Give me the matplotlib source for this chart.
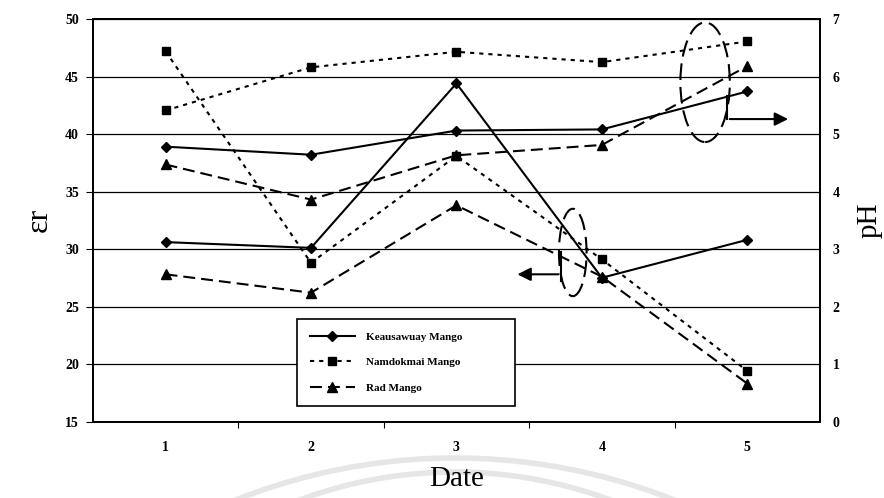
import matplotlib
matplotlib.use("Agg")
import matplotlib.pyplot as plt
from matplotlib.patches import Ellipse, Arc
from matplotlib.transforms import IdentityTransform

plt.rcParams['font.family'] = ['Liberation Serif', 'DejaVu Serif']
plt.rcParams['lines.scale_dashes'] = False

# data
dates = [1, 2, 3, 4, 5]
names = ['Keausawuay Mango', 'Namdokmai Mango', 'Rad Mango']
er_keau = [30.6, 30.1, 44.4, 27.5, 30.8]
er_namd = [47.2, 28.8, 38.1, 29.1, 19.4]
er_rad = [27.8, 26.2, 33.8, 27.6, 18.3]
ph_keau = [4.78, 4.64, 5.06, 5.08, 5.74]
ph_namd = [5.41, 6.16, 6.43, 6.25, 6.61]
ph_rad = [4.47, 3.86, 4.63, 4.81, 6.18]

markers = ['D', 's', '^']
msizes = [5.5, 5.5, 6.5]
dashes = [(None, None), (3.0, 3.6), (8.6, 4.3)]

fig = plt.figure(figsize=(8.84, 4.98), dpi=100)
ax = fig.add_axes([0.105, 0.1536, 0.8226, 0.8082])
ax2 = ax.twinx()

handles = []
for i, (er, ph) in enumerate(zip([er_keau, er_namd, er_rad], [ph_keau, ph_namd, ph_rad])):
    ls = '-' if i == 0 else (0, dashes[i])
    h, = ax.plot(dates, er, color='black', lw=1.5, ls=ls, marker=markers[i],
                 ms=msizes[i], label=names[i], zorder=3)
    ax2.plot(dates, ph, color='black', lw=1.5, ls=ls, marker=markers[i],
             ms=msizes[i], zorder=3)
    handles.append(h)

ax.set_xlim(0.5, 5.5)
ax.set_ylim(15, 50)
ax2.set_ylim(0, 7)
ax.set_yticks(range(15, 51, 5))
ax2.set_yticks(range(0, 8))
ax.set_xticks(dates)
ax.set_xticks([1.5, 2.5, 3.5, 4.5], minor=True)
ax.yaxis.grid(True, color='black', lw=0.9)
ax.set_axisbelow(True)

ax.tick_params(axis='x', which='major', length=0, pad=14, labelsize=10)
ax.tick_params(axis='x', which='minor', length=4, direction='out', width=0.8)
ax.tick_params(axis='y', length=5, width=0.8, pad=5, labelsize=10)
ax2.tick_params(axis='y', length=0, pad=9, labelsize=10)
for lab in ax.get_xticklabels() + ax.get_yticklabels() + ax2.get_yticklabels():
    lab.set_fontweight('bold')

for sp in ax.spines.values():
    sp.set_linewidth(1.3)
for sp in ax2.spines.values():
    sp.set_linewidth(1.3)

ax.set_xlabel('Date', fontsize=21, labelpad=9)
ax.set_ylabel('\u03b5r', fontsize=23, labelpad=8)
ax2.set_ylabel('pH', fontsize=21, labelpad=12, rotation=90)

# annotations: ellipses and arrows pointing to the axes
ax.add_patch(Ellipse((4.71, 44.5), 0.34, 10.4, fill=False, color='black',
                     lw=1.5, ls=(0, (12, 5)), zorder=4))
ax.add_patch(Ellipse((3.80, 29.7), 0.19, 7.6, fill=False, color='black',
                     lw=1.5, ls=(0, (12, 5)), zorder=4))
ax.plot([4.86, 4.86], [43.3, 41.3], color='black', lw=1.5, zorder=4)
ax.annotate('', xy=(5.30, 41.3), xytext=(4.86, 41.3),
            arrowprops=dict(arrowstyle='-|>', color='black', lw=1.5,
                            mutation_scale=20), zorder=4)
ax.plot([3.72, 3.72], [29.7, 27.2], color='black', lw=1.5, zorder=4)
ax.annotate('', xy=(3.40, 27.8), xytext=(3.72, 27.8),
            arrowprops=dict(arrowstyle='-|>', color='black', lw=1.5,
                            mutation_scale=20), zorder=4)

leg = ax2.legend(handles, names, loc='lower left',
                 bbox_to_anchor=(0.2806, 0.0385, 0.30, 0.22), mode='expand',
                 prop=dict(family='Liberation Serif', weight='bold', size=8),
                 handlelength=4, handletextpad=1.0, borderpad=1.2,
                 labelspacing=1.4, fancybox=False, framealpha=1,
                 edgecolor='black', borderaxespad=0)
leg.get_frame().set_linewidth(1.2)

# faint watermark arcs at the bottom
for cy, r in [(-554, 594), (-420, 446)]:
    fig.add_artist(Arc((455, cy), 2 * r, 2 * r, theta1=55, theta2=125,
                       transform=IdentityTransform(), color='#e6e6e6',
                       lw=4, zorder=0))

fig.savefig('out.png', dpi=100)
